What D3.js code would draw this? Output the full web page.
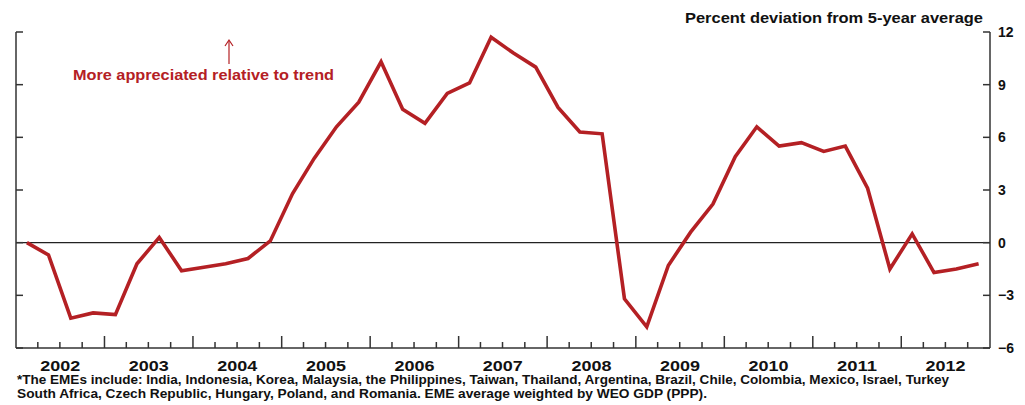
<!DOCTYPE html>
<html>
<head>
<meta charset="utf-8">
<script src="https://cdn.jsdelivr.net/npm/d3@7"></script>
<style>
  body { margin: 0; background: #fff; }
  svg { display: block; font-family: "Liberation Sans", Arial, sans-serif; font-weight: bold; }
</style>
</head>
<body>
<div id="target"></div>
<script>
const quarters = [
  "2002Q1","2002Q2","2002Q3","2002Q4","2003Q1","2003Q2","2003Q3","2003Q4",
  "2004Q1","2004Q2","2004Q3","2004Q4","2005Q1","2005Q2","2005Q3","2005Q4",
  "2006Q1","2006Q2","2006Q3","2006Q4","2007Q1","2007Q2","2007Q3","2007Q4",
  "2008Q1","2008Q2","2008Q3","2008Q4","2009Q1","2009Q2","2009Q3","2009Q4",
  "2010Q1","2010Q2","2010Q3","2010Q4","2011Q1","2011Q2","2011Q3","2011Q4",
  "2012Q1","2012Q2","2012Q3","2012Q4"
];
const deviation = [
  0.0, -0.7, -4.3, -4.0, -4.1, -1.2, 0.3, -1.6,
  -1.4, -1.2, -0.9, 0.1, 2.8, 4.8, 6.6, 8.0,
  10.3, 7.6, 6.8, 8.5, 9.1, 11.7, 10.8, 10.0,
  7.7, 6.3, 6.2, -3.2, -4.8, -1.3, 0.6, 2.2,
  4.9, 6.6, 5.5, 5.7, 5.2, 5.5, 3.1, -1.5,
  0.5, -1.7, -1.5, -1.2
];
const yearLabels = ["2002","2003","2004","2005","2006","2007","2008","2009","2010","2011","2012"];
const yTicks = [12, 9, 6, 3, 0, -3, -6];

const width = 1025,
  height = 405,
  plotLeft = 16,
  plotRight = 990,
  plotTop = 32,
  plotBottom = 348;

const red = "#b42024";

// quarter string -> mid-quarter date
const parseQ = (s) => {
  const yr = +s.slice(0, 4), q = +s.slice(5);
  return new Date(yr, (q - 1) * 3 + 1, 15);
};

const x = d3.scaleTime()
  .domain([new Date(2002, 0, 1), new Date(2013, 0, 1)])
  .range([plotLeft, plotRight]);

const y = d3.scaleLinear()
  .domain([-6, 12])
  .range([plotBottom, plotTop]);

const svg = d3.select("#target").append("svg")
  .attr("width", width)
  .attr("height", height);

// zero line
svg.append("line")
  .attr("x1", plotLeft).attr("x2", plotRight)
  .attr("y1", y(0)).attr("y2", y(0))
  .attr("stroke", "#222").attr("stroke-width", 1.3);

// right axis with labels
const yRight = svg.append("g")
  .attr("transform", `translate(${plotRight},0)`)
  .call(d3.axisRight(y).tickValues(yTicks).tickSize(0).tickPadding(8));
yRight.select(".domain").remove();
yRight.selectAll("text")
  .attr("font-size", 14).attr("font-weight", "bold")
  .attr("font-family", "Liberation Sans, Arial, sans-serif")
  .attr("fill", "#111");

// axis frame lines + inward ticks
const frame = svg.append("g").attr("stroke", "#333").attr("stroke-width", 1.5);
frame.append("line").attr("x1", plotLeft).attr("x2", plotLeft).attr("y1", plotTop).attr("y2", plotBottom);
frame.append("line").attr("x1", plotRight).attr("x2", plotRight).attr("y1", plotTop).attr("y2", plotBottom);
frame.append("line").attr("x1", plotLeft).attr("x2", plotRight).attr("y1", plotBottom).attr("y2", plotBottom);

frame.selectAll(".lt").data(yTicks).enter().append("line")
  .attr("x1", plotLeft).attr("x2", plotLeft + 7)
  .attr("y1", (d) => y(d)).attr("y2", (d) => y(d));
frame.selectAll(".rt").data(yTicks).enter().append("line")
  .attr("x1", plotRight - 7).attr("x2", plotRight)
  .attr("y1", (d) => y(d)).attr("y2", (d) => y(d));

// bottom ticks: quarter boundaries, taller at year starts
const qTicks = d3.timeMonth.every(3).range(new Date(2002, 3, 1), new Date(2013, 0, 1));
frame.selectAll(".bt").data(qTicks).enter().append("line")
  .attr("x1", (d) => x(d)).attr("x2", (d) => x(d))
  .attr("y1", plotBottom)
  .attr("y2", (d) => d.getMonth() === 0 ? plotBottom - 12 : plotBottom - 6);

// year labels centred in each year (source text is wide, so stretch it)
svg.selectAll(".year").data(yearLabels).enter().append("text")
  .attr("x", (d) => (x(new Date(+d, 0, 1)) + x(new Date(+d + 1, 0, 1))) / 2)
  .attr("y", 371)
  .attr("text-anchor", "middle")
  .attr("font-size", 14.5)
  .attr("textLength", 40)
  .attr("lengthAdjust", "spacingAndGlyphs")
  .attr("fill", "#111")
  .text((d) => d);

// the series
const line = d3.line()
  .x((d, i) => x(parseQ(quarters[i])))
  .y((d) => y(d));

svg.append("path")
  .datum(deviation)
  .attr("d", line)
  .attr("fill", "none")
  .attr("stroke", red)
  .attr("stroke-width", 3.6)
  .attr("stroke-linejoin", "miter");

// title
svg.append("text")
  .attr("x", 685).attr("y", 23)
  .attr("font-size", 15)
  .attr("textLength", 298)
  .attr("lengthAdjust", "spacingAndGlyphs")
  .attr("fill", "#111")
  .text("Percent deviation from 5-year average");

// annotation + arrow
svg.append("text")
  .attr("x", 73).attr("y", 80)
  .attr("font-size", 14.5)
  .attr("textLength", 261)
  .attr("lengthAdjust", "spacingAndGlyphs")
  .attr("fill", red)
  .text("More appreciated relative to trend");

svg.append("line")
  .attr("x1", 229).attr("x2", 229)
  .attr("y1", 64).attr("y2", 41)
  .attr("stroke", red).attr("stroke-width", 1.2);
svg.append("path")
  .attr("d", "M225,46 L229,40 L233,46")
  .attr("fill", "none")
  .attr("stroke", red).attr("stroke-width", 1.2);

// footnote
const notes = [
  "*The EMEs include: India, Indonesia, Korea, Malaysia, the Philippines, Taiwan, Thailand, Argentina, Brazil, Chile, Colombia, Mexico, Israel, Turkey",
  "South Africa, Czech Republic, Hungary, Poland, and Romania. EME average weighted by WEO GDP (PPP)."
];
const noteWidths = [932, 690];
svg.selectAll(".note").data(notes).enter().append("text")
  .attr("x", 17)
  .attr("y", (d, i) => 384 + i * 14)
  .attr("font-size", 13.5)
  .attr("textLength", (d, i) => noteWidths[i])
  .attr("lengthAdjust", "spacingAndGlyphs")
  .attr("fill", "#111")
  .text((d) => d);
</script>
</body>
</html>
